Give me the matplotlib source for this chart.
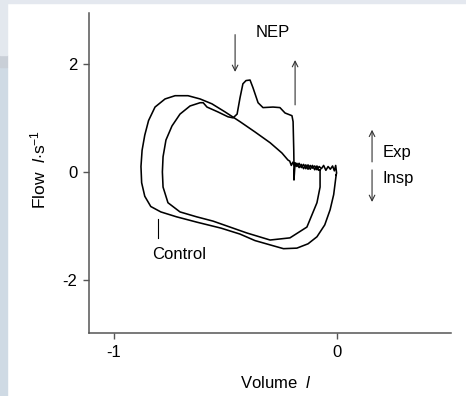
import matplotlib
matplotlib.use("Agg")
import matplotlib.pyplot as plt
from matplotlib.patches import Rectangle

plt.rcParams['font.family'] = ['Liberation Sans', 'DejaVu Sans']
plt.rcParams['mathtext.fontset'] = 'custom'
plt.rcParams['mathtext.rm'] = 'Liberation Sans'
plt.rcParams['mathtext.it'] = 'Liberation Sans:italic'
plt.rcParams['axes.unicode_minus'] = False

# control loop: inspiration (bottom, right->left), expiration (top), end-expiratory noise
ctrl_vol = [-0.004, -0.015, -0.031, -0.055, -0.090, -0.130, -0.180, -0.240, -0.300, -0.368,
            -0.435, -0.520, -0.628, -0.720, -0.790, -0.835, -0.862, -0.876, -0.879, -0.874,
            -0.862, -0.845, -0.816, -0.771, -0.726, -0.668, -0.614, -0.561, -0.502, -0.435,
            -0.368, -0.300, -0.247, -0.220,
            -0.212, -0.205, -0.198, -0.190, -0.180, -0.170, -0.160, -0.150, -0.140, -0.130,
            -0.120, -0.110, -0.100, -0.090, -0.080, -0.070, -0.060, -0.050, -0.040, -0.030,
            -0.020, -0.012, -0.006, -0.002, -0.004]
ctrl_flow = [-0.06, -0.42, -0.70, -0.98, -1.20, -1.33, -1.41, -1.42, -1.35, -1.27,
             -1.15, -1.04, -0.93, -0.83, -0.74, -0.64, -0.45, -0.20, 0.10, 0.40,
             0.68, 0.95, 1.20, 1.35, 1.41, 1.41, 1.35, 1.26, 1.11, 0.93,
             0.74, 0.54, 0.35, 0.22,
             0.20, 0.12, 0.18, 0.10, 0.16, 0.08, 0.14, 0.06, 0.13, 0.05,
             0.12, 0.07, 0.11, 0.04, 0.10, 0.06, 0.12, 0.03, 0.10, 0.05,
             0.11, 0.02, 0.12, -0.02, -0.06]

# NEP loop: inspiration, expiration with NEP peak, release and noise
nep_vol = [-0.076, -0.076, -0.090, -0.135, -0.211, -0.300, -0.404, -0.480, -0.556, -0.630,
           -0.704, -0.758, -0.780, -0.783, -0.780, -0.767, -0.740, -0.704, -0.659, -0.614,
           -0.600, -0.583, -0.534, -0.489, -0.466, -0.448, -0.435, -0.422, -0.408, -0.390,
           -0.377, -0.354, -0.332, -0.287, -0.256, -0.233, -0.202, -0.197, -0.194, -0.193,
           -0.193, -0.188, -0.180, -0.170, -0.160, -0.150, -0.140, -0.130, -0.120, -0.110,
           -0.100, -0.090, -0.082, -0.076]
nep_flow = [0.04, -0.28, -0.57, -1.02, -1.22, -1.26, -1.13, -1.02, -0.91, -0.83,
            -0.74, -0.57, -0.28, 0.00, 0.28, 0.59, 0.85, 1.07, 1.22, 1.28,
            1.28, 1.20, 1.11, 1.02, 1.00, 1.07, 1.37, 1.63, 1.69, 1.70,
            1.56, 1.28, 1.19, 1.20, 1.19, 1.09, 1.04, 0.93, 0.41, 0.13,
            -0.15, 0.17, 0.10, 0.16, 0.08, 0.14, 0.06, 0.13, 0.05, 0.12,
            0.04, 0.11, 0.03, 0.04]

fig = plt.figure(figsize=(4.66, 3.96), dpi=100)
# screenshot frame around the figure (display pixels, origin bottom-left)
fig.patches.append(Rectangle((0, 393), 466, 3, transform=None, color='#e4e8ef', zorder=0))
fig.patches.append(Rectangle((0, 0), 7, 396 - 67, transform=None, color='#cfdae4', zorder=0))
fig.patches.append(Rectangle((0, 396 - 67), 7, 12, transform=None, color='#c9cfd7', zorder=0))
fig.patches.append(Rectangle((0, 396 - 55), 7, 55, transform=None, color='#e3e8ee', zorder=0))

ax = fig.add_axes([89 / 466, 63 / 396, 362 / 466, 320 / 396])
ax.plot(ctrl_vol, ctrl_flow, color='black', lw=1.15)
ax.plot(nep_vol, nep_flow, color='black', lw=1.15)

ax.set_xlim(-1.112, 0.511)
ax.set_ylim(-2.98, 2.94)
ax.set_xticks([-1, 0])
ax.set_yticks([-2, 0, 2])
ax.tick_params(direction='out', length=4.5, width=1, color='#555555', labelsize=12, pad=4)
for s in ['top', 'right']:
    ax.spines[s].set_visible(False)
for s in ['left', 'bottom']:
    ax.spines[s].set_color('#555555')
    ax.spines[s].set_linewidth(1.1)

arrow = dict(arrowstyle='->', color='#333333', lw=0.8, shrinkA=0, shrinkB=0)
ax.annotate('', xy=(-0.457, 1.85), xytext=(-0.457, 2.54), arrowprops=arrow)
ax.annotate('', xy=(-0.188, 2.07), xytext=(-0.188, 1.24), arrowprops=arrow)
ax.annotate('', xy=(0.157, 0.78), xytext=(0.157, 0.185), arrowprops=arrow)
ax.annotate('', xy=(0.157, -0.556), xytext=(0.157, 0.037), arrowprops=arrow)
ax.plot([-0.803, -0.803], [-0.87, -1.22], color='black', lw=0.8)

ax.text(-0.29, 2.58, 'NEP', fontsize=12, ha='center', va='center')
ax.text(0.206, 0.35, 'Exp', fontsize=12, ha='left', va='center')
ax.text(0.206, -0.13, 'Insp', fontsize=12, ha='left', va='center')
ax.text(-0.83, -1.52, 'Control', fontsize=12, ha='left', va='center')

fig.text(38 / 466, 1 - 169 / 396, 'Flow  $\\mathit{l}$$\\cdot$s$^{-1}$', rotation=90,
         fontsize=12.5, ha='center', va='center')
fig.text(276 / 466, 1 - 383 / 396, 'Volume  $\\mathit{l}$', fontsize=12,
         ha='center', va='center')

fig.savefig('out.png', dpi=100)
